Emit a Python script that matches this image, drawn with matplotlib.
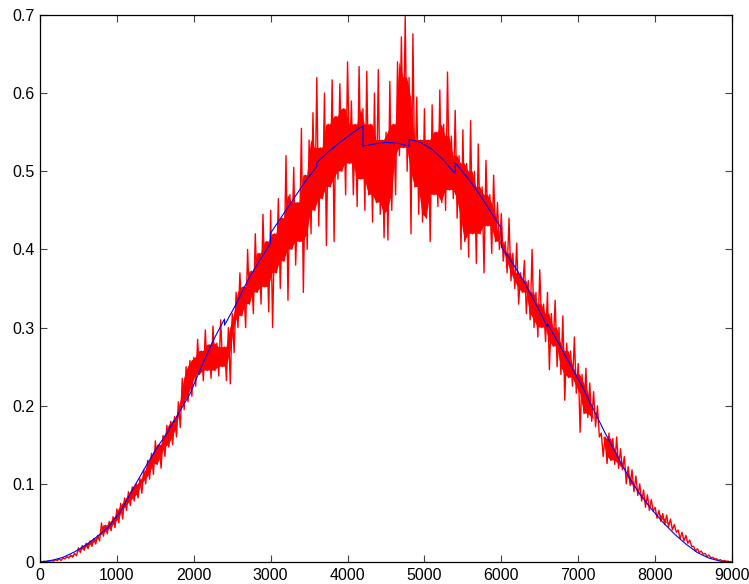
import numpy as np
import matplotlib
matplotlib.use("Agg")
import matplotlib.pyplot as plt

# noisy signal, every 25 samples (alternating local high / low)
red_step = 25
red = [
    0.000, 0.000, 0.001, 0.000, 0.001, 0.001, 0.002, 0.001, 0.003, 0.002, 0.004, 0.002, 0.005, 0.004, 0.007, 0.005, 0.009, 0.006, 0.011, 0.008,
    0.018, 0.012, 0.021, 0.015, 0.024, 0.017, 0.027, 0.020, 0.030, 0.023, 0.034, 0.027, 0.050, 0.033, 0.047, 0.036, 0.052, 0.040, 0.058, 0.044,
    0.068, 0.050, 0.075, 0.055, 0.082, 0.066, 0.090, 0.072, 0.096, 0.078, 0.100, 0.082, 0.107, 0.088, 0.118, 0.100, 0.130, 0.106, 0.139, 0.112,
    0.155, 0.125, 0.150, 0.120, 0.162, 0.135, 0.175, 0.147, 0.180, 0.150, 0.186, 0.160, 0.205, 0.172, 0.235, 0.195, 0.250, 0.205, 0.258, 0.212,
    0.262, 0.225, 0.285, 0.240, 0.270, 0.232, 0.297, 0.245, 0.278, 0.235, 0.302, 0.245, 0.280, 0.238, 0.310, 0.250, 0.275, 0.232, 0.300, 0.228,
    0.318, 0.268, 0.345, 0.300, 0.370, 0.315, 0.352, 0.300, 0.400, 0.330, 0.372, 0.318, 0.420, 0.345, 0.395, 0.330, 0.445, 0.352, 0.410, 0.320,
    0.450, 0.300, 0.420, 0.370, 0.465, 0.350, 0.440, 0.385, 0.520, 0.335, 0.470, 0.400, 0.505, 0.380, 0.460, 0.410, 0.555, 0.345, 0.495, 0.400,
    0.540, 0.420, 0.575, 0.450, 0.620, 0.430, 0.530, 0.465, 0.600, 0.405, 0.560, 0.480, 0.617, 0.410, 0.570, 0.490, 0.612, 0.500, 0.580, 0.470,
    0.640, 0.510, 0.590, 0.470, 0.560, 0.455, 0.634, 0.490, 0.580, 0.450, 0.628, 0.470, 0.560, 0.435, 0.600, 0.460, 0.630, 0.445, 0.540, 0.415,
    0.550, 0.412, 0.615, 0.450, 0.560, 0.470, 0.640, 0.520, 0.672, 0.530, 0.698, 0.500, 0.620, 0.420, 0.676, 0.480, 0.595, 0.445, 0.540, 0.435,
    0.580, 0.440, 0.540, 0.410, 0.585, 0.470, 0.550, 0.455, 0.604, 0.460, 0.560, 0.450, 0.627, 0.476, 0.545, 0.465, 0.578, 0.440, 0.520, 0.400,
    0.553, 0.410, 0.510, 0.390, 0.565, 0.420, 0.500, 0.382, 0.535, 0.420, 0.480, 0.370, 0.514, 0.430, 0.470, 0.395, 0.495, 0.410, 0.460, 0.400,
    0.446, 0.385, 0.410, 0.370, 0.440, 0.360, 0.395, 0.350, 0.408, 0.330, 0.370, 0.345, 0.386, 0.318, 0.360, 0.310, 0.400, 0.300, 0.345, 0.288,
    0.374, 0.300, 0.330, 0.282, 0.345, 0.246, 0.318, 0.276, 0.335, 0.250, 0.300, 0.240, 0.315, 0.207, 0.280, 0.236, 0.270, 0.225, 0.288, 0.216,
    0.254, 0.166, 0.240, 0.190, 0.248, 0.185, 0.229, 0.180, 0.218, 0.173, 0.200, 0.160, 0.165, 0.135, 0.160, 0.126, 0.165, 0.130, 0.158, 0.125,
    0.160, 0.120, 0.145, 0.118, 0.135, 0.100, 0.122, 0.098, 0.118, 0.090, 0.110, 0.085, 0.100, 0.078, 0.092, 0.070, 0.086, 0.066, 0.080, 0.065,
    0.070, 0.056, 0.066, 0.052, 0.062, 0.048, 0.060, 0.045, 0.055, 0.041, 0.048, 0.038, 0.041, 0.030, 0.038, 0.027, 0.034, 0.024, 0.028, 0.020,
    0.020, 0.014, 0.017, 0.012, 0.014, 0.010, 0.011, 0.007, 0.009, 0.005, 0.006, 0.004, 0.004, 0.002, 0.003, 0.001, 0.002, 0.001, 0.001, 0.000,
    0.000,
]

# piecewise fit (blue), repeated x = jump between fit windows
fit_x = [0, 150, 300, 450, 600, 750, 900, 1050, 1200, 1350, 1500, 1650, 1800, 1950, 2100, 2250,
         2400, 2400, 2550, 2700, 2850, 3000, 3000, 3150, 3300, 3450, 3600, 3600, 3750, 3900, 4050,
         4200, 4200, 4350, 4500, 4650, 4800, 4800, 4950, 5100, 5250, 5400, 5400, 5550, 5700, 5850,
         6000, 6000, 6150, 6300, 6450, 6600, 6600, 6750, 6900, 7050, 7200, 7350, 7500, 7650, 7800,
         7950, 8100, 8250, 8400, 8550, 8700, 8850, 9000]
fit_y = [0.0, 0.002, 0.006, 0.013, 0.022, 0.033, 0.046, 0.065, 0.092, 0.118, 0.143, 0.165, 0.19, 0.215, 0.25, 0.283,
         0.311, 0.303, 0.33, 0.36, 0.385, 0.408, 0.421, 0.443, 0.465, 0.487, 0.506, 0.511, 0.525, 0.537, 0.548,
         0.558, 0.532, 0.535, 0.537, 0.536, 0.532, 0.541, 0.537, 0.528, 0.514, 0.497, 0.511, 0.493, 0.473, 0.45,
         0.427, 0.403, 0.382, 0.358, 0.33, 0.301, 0.305, 0.279, 0.252, 0.225, 0.195, 0.165, 0.137, 0.11, 0.087,
         0.068, 0.051, 0.036, 0.023, 0.012, 0.005, 0.001, 0.0]

xticks = [0, 1000, 2000, 3000, 4000, 5000, 6000, 7000, 8000, 9000]
yticks = [0, 0.1, 0.2, 0.3, 0.4, 0.5, 0.6, 0.7]
ytick_labels = ["0", "0.1", "0.2", "0.3", "0.4", "0.5", "0.6", "0.7"]

plt.rcParams["font.family"] = ["Liberation Sans", "DejaVu Sans"]

fig = plt.figure(figsize=(7.49, 5.84), dpi=100)
ax = fig.add_axes([40 / 749, 22 / 584, 692 / 749, 547 / 584])

red_x = np.arange(len(red)) * red_step

# dense core of the noise: inside the three nearest highs and lows
hi = np.array(red[0::2])
lo = np.array(red[1::2])
hi_pad = np.concatenate([hi, [hi[-1]]])
core_top = np.minimum(np.minimum(hi_pad[:-2], hi_pad[1:-1]), hi_pad[2:])
lo_pad = np.concatenate([[lo[0]], lo, [lo[-1]]])
core_bot = np.maximum(np.maximum(lo_pad[:-2], lo_pad[1:-1]), lo_pad[2:])
ax.fill_between(red_x[1::2], core_bot, core_top, where=core_top > core_bot,
                color="#ff0000", lw=0, interpolate=True)
ax.plot(red_x, red, color="#ff0000", lw=1.0)
ax.plot(fit_x, fit_y, color="#0000ff", lw=0.8)

ax.set_xlim(0, 9000)
ax.set_ylim(0, 0.7)
ax.set_xticks(xticks)
ax.set_xticklabels([str(t) for t in xticks])
ax.set_yticks(yticks)
ax.set_yticklabels(ytick_labels)
ax.tick_params(direction="in", length=5, width=0.8, labelsize=11.5,
               top=True, right=True, color="#444444")
ax.tick_params(axis="x", pad=4)
ax.tick_params(axis="y", pad=4)
for s in ax.spines.values():
    s.set_linewidth(0.9)

fig.savefig("out.png", dpi=100)
